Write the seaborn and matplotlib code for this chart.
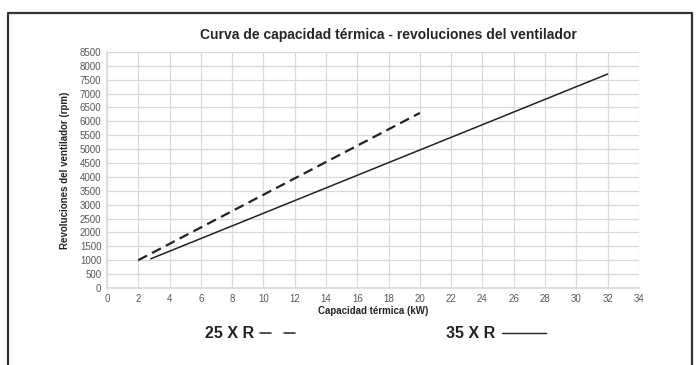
import matplotlib
matplotlib.use("Agg")
import matplotlib.pyplot as plt
import seaborn as sns
import pandas as pd
from matplotlib.lines import Line2D

sns.set_theme(style="white")
plt.rcParams['font.family'] = ['Liberation Sans Narrow', 'Liberation Sans', 'DejaVu Sans']

# Data
cap_25 = [2.0, 20.0]
rpm_25 = [1000, 6300]
cap_35 = [2.8, 32.0]
rpm_35 = [1050, 7700]
x_ticks = list(range(0, 35, 2))
y_ticks = list(range(0, 8501, 500))

df = pd.concat([
    pd.DataFrame({"cap": cap_25, "rpm": rpm_25, "model": "25 X R"}),
    pd.DataFrame({"cap": cap_35, "rpm": rpm_35, "model": "35 X R"}),
])

fig = plt.figure(figsize=(6.99, 3.65), dpi=100)
ax = fig.add_axes([0.153, 0.211, 0.761, 0.647])

sns.lineplot(data=df, x="cap", y="rpm", hue="model", style="model",
             palette={"25 X R": "#222222", "35 X R": "#222222"},
             dashes={"25 X R": (4.5, 2.5), "35 X R": ""},
             linewidth=1.1, legend=False, ax=ax)
for ln in ax.lines:
    if ln.get_linestyle() != '-':
        ln.set_linewidth(1.6)

ax.set_xlim(0, 34)
ax.set_ylim(0, 8500)
ax.set_xticks(x_ticks)
ax.set_yticks(y_ticks)
ax.tick_params(axis='both', labelsize=7, colors='#595959', length=0, pad=4)
ax.grid(True, color='#d9d9d9', linewidth=0.9)
for s in ax.spines.values():
    s.set_visible(False)
ax.spines['left'].set_visible(True)
ax.spines['left'].set_color('#d9d9d9')
ax.spines['bottom'].set_visible(True)
ax.spines['bottom'].set_color('#d9d9d9')

ax.set_xlabel("Capacidad térmica (kW)", fontsize=7, fontweight='bold', color='#262626', labelpad=2)
ax.set_ylabel("Revoluciones del ventilador (rpm)", fontsize=7, fontweight='bold', color='#262626', labelpad=7)
fig.text(0.556, 0.905, "Curva de capacidad térmica - revoluciones del ventilador",
         ha='center', va='center', fontsize=10, fontweight='bold', color='#262626')

# bottom legend text
fig.text(0.293, 0.085, "25 X R", ha='left', va='center', fontsize=11.5, fontweight='bold', color='#222222')
fig.text(0.638, 0.085, "35 X R", ha='left', va='center', fontsize=11.5, fontweight='bold', color='#222222')
fig.add_artist(Line2D([260/699, 271/699], [0.087, 0.087], color='#222222', linewidth=1.1))
fig.add_artist(Line2D([284/699, 295/699], [0.087, 0.087], color='#222222', linewidth=1.1))
fig.add_artist(Line2D([502/699, 546/699], [0.087, 0.087], color='#222222', linewidth=1.0))

# outer frame (document box)
fig.add_artist(Line2D([0.011, 0.011, 0.990, 0.990], [0.0, 0.965, 0.965, 0.0], color='#333333', linewidth=1.6))

fig.savefig("out.png", dpi=100)
